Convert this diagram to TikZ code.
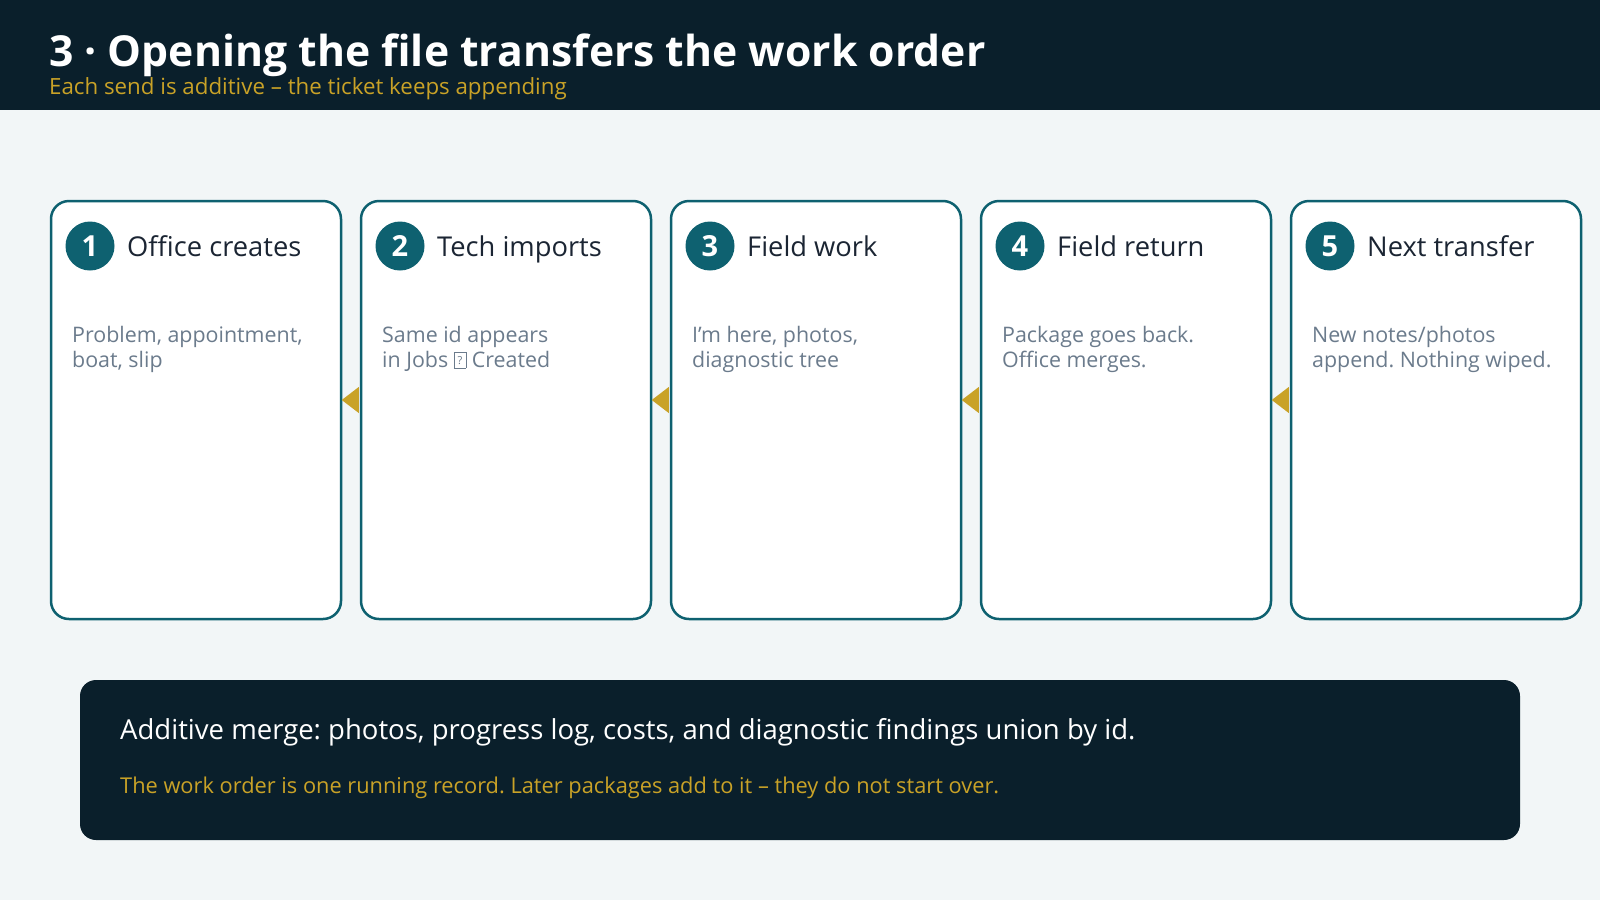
\documentclass[tikz,border=0pt]{standalone}
\usepackage{fontspec}
\setmainfont{Open Sans}
\usetikzlibrary{positioning}
\definecolor{navy}{HTML}{0A1F2B}
\definecolor{paper}{HTML}{F2F6F7}
\definecolor{teal}{HTML}{0E6170}
\definecolor{gold}{HTML}{C9A227}
\definecolor{ink}{HTML}{1B2533}
\definecolor{muted}{HTML}{6B7B8C}
\newcommand{\qbox}{\raisebox{-0.5pt}{\fboxsep=0pt\fboxrule=0.7pt\fbox{\makebox[11pt]{\rule{0pt}{15pt}\raisebox{3pt}{\fontsize{11}{11}\selectfont ?}}}}}
\frenchspacing
\begin{document}
\begin{tikzpicture}[x=1pt,y=-1pt,
    card/.style = {draw=teal, line width=2.5pt, fill=white, rounded corners=18pt,
                   minimum width=290pt, minimum height=418pt, inner sep=0pt},
    badge/.style = {circle, fill=teal, minimum size=49pt, inner sep=0pt, text=white,
                    font=\fontsize{29}{29}\selectfont\bfseries},
    stephead/.style = {anchor=base west, inner sep=0pt, text=ink,
                       font=\fontsize{27.3}{27.3}\selectfont},
    stepbody/.style = {anchor=base west, inner sep=0pt, text=muted, align=left,
                       font=\fontsize{21.4}{25}\selectfont},
    pointer/.style = {fill=gold}]
% canvas
\useasboundingbox (0,0) rectangle (1600,900);
\fill[paper] (0,0) rectangle (1600,900);
\fill[navy] (0,0) rectangle (1600,110);
\node[anchor=base west, inner sep=0pt, text=white, font=\fontsize{42.7}{42.7}\selectfont\bfseries]
    (title) at (49,66) {3 · Opening the file transfers the work order};
\node[anchor=base west, inner sep=0pt, text=gold, font=\fontsize{22.3}{22.3}\selectfont]
    (subtitle) at (49,94) {Each send is additive – the ticket keeps appending};

% the five steps
\node[card] (c1) at (196,410) {};
\node[card] (c2) at (506,410) {};
\node[card] (c3) at (816,410) {};
\node[card] (c4) at (1126,410) {};
\node[card] (c5) at (1436,410) {};

\node[badge] (n1) at (90,246) {1};
\node[stephead] (h1) at (127,256) {Office creates};
\node[stepbody] (b1) at (72,367) {Problem, appointment,\\boat, slip};

\node[badge] (n2) at (400,246) {2};
\node[stephead] (h2) at (437,256) {Tech imports};
\node[stepbody] (b2) at (382,367) {Same id appears\\in Jobs \qbox{} Created};

\node[badge] (n3) at (710,246) {3};
\node[stephead] (h3) at (747,256) {Field work};
\node[stepbody] (b3) at (692,367) {I’m here, photos,\\diagnostic tree};

\node[badge] (n4) at (1020,246) {4};
\node[stephead] (h4) at (1057,256) {Field return};
\node[stepbody] (b4) at (1002,367) {Package goes back.\\Office merges.};

\node[badge] (n5) at (1330,246) {5};
\node[stephead] (h5) at (1367,256) {Next transfer};
\node[stepbody] (b5) at (1312,367) {New notes/photos\\append. Nothing wiped.};

% pointers between the steps
\fill[pointer] ([xshift=-18pt,yshift=10pt]c2.west) -- ([xshift=-1pt,yshift=23pt]c2.west) -- ([xshift=-1pt,yshift=-3pt]c2.west) -- cycle;
\fill[pointer] ([xshift=-18pt,yshift=10pt]c3.west) -- ([xshift=-1pt,yshift=23pt]c3.west) -- ([xshift=-1pt,yshift=-3pt]c3.west) -- cycle;
\fill[pointer] ([xshift=-18pt,yshift=10pt]c4.west) -- ([xshift=-1pt,yshift=23pt]c4.west) -- ([xshift=-1pt,yshift=-3pt]c4.west) -- cycle;
\fill[pointer] ([xshift=-18pt,yshift=10pt]c5.west) -- ([xshift=-1pt,yshift=23pt]c5.west) -- ([xshift=-1pt,yshift=-3pt]c5.west) -- cycle;

% summary panel
\node[fill=navy, rounded corners=16pt, minimum width=1440pt, minimum height=160pt, inner sep=0pt]
    (panel) at (800,760) {};
\node[anchor=base west, inner sep=0pt, text=white, font=\fontsize{27.5}{27.5}\selectfont]
    (merge) at (120,739) {Additive merge: photos, progress log, costs, and diagnostic findings union by id.};
\node[anchor=base west, inner sep=0pt, text=gold, font=\fontsize{21.8}{21.8}\selectfont]
    (record) at (120,793) {The work order is one running record. Later packages add to it – they do not start over.};
\end{tikzpicture}
\end{document}
